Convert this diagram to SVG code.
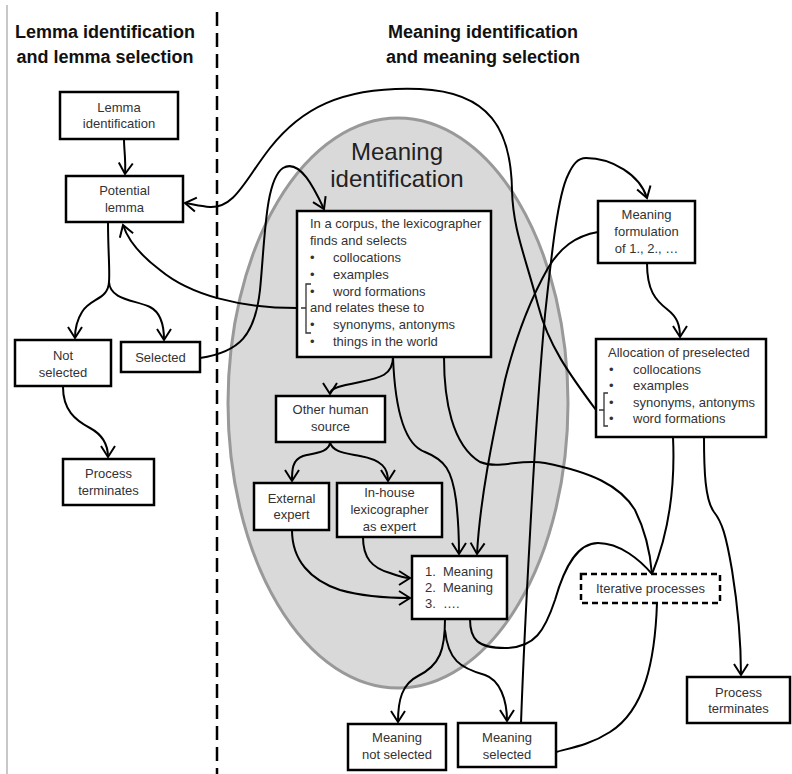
<svg xmlns="http://www.w3.org/2000/svg" width="792" height="774" viewBox="0 0 792 774">
<style>
.box{fill:#fff;stroke:#000;stroke-width:2.5}
.t{font-family:"Liberation Sans",Arial,sans-serif;font-size:13px;fill:#333}
.c{text-anchor:middle}
.h{font-family:"Liberation Sans",Arial,sans-serif;font-size:18px;font-weight:bold;fill:#111;text-anchor:middle}
.ln{fill:none;stroke:#000;stroke-width:2}
.br{fill:none;stroke:#333;stroke-width:1.3}
</style>
<defs>
<marker id="ah" viewBox="-13 -9 15 18" refX="0" refY="0" markerWidth="15" markerHeight="18" markerUnits="userSpaceOnUse" orient="auto">
<path d="M-11,-7 L0,0 L-11,7" fill="none" stroke="#000" stroke-width="2"/>
</marker>
</defs>
<rect x="0" y="0" width="792" height="774" fill="#fff"/>
<line x1="7" y1="5" x2="7" y2="774" stroke="#c8c8c8" stroke-width="2"/>
<line x1="217" y1="12" x2="217" y2="774" stroke="#000" stroke-width="2.5" stroke-dasharray="14,7"/>
<g id="headings">
<text class="h" x="105" y="38">Lemma identification</text>
<text class="h" x="105" y="63">and lemma selection</text>
<text class="h" x="483" y="38">Meaning identification</text>
<text class="h" x="483" y="63">and meaning selection</text>
</g>
<g id="meaning-identification-area">
<ellipse cx="398" cy="403" rx="170" ry="285" fill="#d9d9d9" stroke="#999" stroke-width="3"/>
<text x="397" y="160" font-family="Liberation Sans, Arial, sans-serif" font-size="24" fill="#222" text-anchor="middle">Meaning</text>
<text x="397" y="187" font-family="Liberation Sans, Arial, sans-serif" font-size="24" fill="#222" text-anchor="middle">identification</text>
</g>
<g id="connectors">
<path class="ln" d="M124,139 C124,150 126,160 125,174" marker-end="url(#ah)"/>
<path class="ln" d="M108,222 C108,250 110,270 109,282 C108,300 90,298 82,312 C77,320 75,328 75,338" marker-end="url(#ah)"/>
<path class="ln" d="M109,282 C110,300 135,300 150,307 C160,312 164,325 164,340" marker-end="url(#ah)"/>
<path class="ln" d="M63,387 C63,410 75,420 90,428 C103,435 108,445 108,457" marker-end="url(#ah)"/>
<path class="ln" d="M200,358 C240,352 255,335 260,290 C265,240 265,180 283,168 C300,158 315,190 324,209" marker-end="url(#ah)"/>
<path class="ln" d="M297,308 C240,308 190,295 160,270 C140,255 128,240 123,225" marker-end="url(#ah)"/>
<path class="ln" d="M596,410 C570,375 548,345 538,305 C525,255 513,230 512,190 C511,130 490,92 420,89 C340,86 300,110 270,148 C245,180 235,208 210,207 C200,206 192,204 185,203" marker-end="url(#ah)"/>
<path class="ln" d="M521,723 C524,640 535,420 545,315 C552,250 558,195 568,175 C573,164 578,158 586,158 C612,158 640,175 647,198" marker-end="url(#ah)"/>
<path class="ln" d="M598,232 C575,236 560,248 548,268 C530,300 515,340 505,380 C492,440 480,500 477,554" marker-end="url(#ah)"/>
<path class="ln" d="M647,263 C647,290 655,300 668,310 C677,317 680,325 680,337" marker-end="url(#ah)"/>
<path class="ln" d="M444,357 C444,400 452,445 480,462 C500,470 520,458 545,463 C590,472 620,485 635,510 C645,530 650,550 652,574"/>
<path class="ln" d="M470,619 C470,640 478,648 505,648 C535,648 545,630 555,600 C565,565 578,543 598,543 C620,543 640,560 652,574"/>
<path class="ln" d="M673,437 C675,480 670,530 652,574"/>
<path class="ln" d="M704,437 C704,470 705,500 714,512 C722,522 726,535 732,570 C740,620 741,650 741,675" marker-end="url(#ah)"/>
<path class="ln" d="M657,603 C655,660 645,710 610,732 C590,745 570,748 556,752"/>
<path class="ln" d="M393,357 C393,375 380,378 360,382 C340,386 330,388 330,394" marker-end="url(#ah)"/>
<path class="ln" d="M393,357 C395,410 405,445 425,452 C445,460 452,470 456,500 C459,525 459,540 459,554" marker-end="url(#ah)"/>
<path class="ln" d="M330,442 C330,452 315,453 303,456 C292,460 292,470 292,481" marker-end="url(#ah)"/>
<path class="ln" d="M330,442 C332,452 345,453 360,456 C382,460 388,468 388,481" marker-end="url(#ah)"/>
<path class="ln" d="M292,530 C292,560 310,580 340,590 C365,597 390,598 410,598" marker-end="url(#ah)"/>
<path class="ln" d="M363,537 C363,558 372,568 390,573 C398,576 404,578 410,578" marker-end="url(#ah)"/>
<path class="ln" d="M445,619 C445,650 440,665 418,676 C402,684 398,700 398,722" marker-end="url(#ah)"/>
<path class="ln" d="M445,630 C448,660 460,668 485,675 C500,680 507,700 507,721" marker-end="url(#ah)"/>
</g>
<g id="lemma-identification">
<rect class="box" x="60" y="92" width="118" height="47"/>
<text class="t c" x="119" y="112">Lemma</text>
<text class="t c" x="119" y="128">identification</text>
</g>
<g id="potential-lemma">
<rect class="box" x="66" y="176" width="117" height="46"/>
<text class="t c" x="124.5" y="195">Potential</text>
<text class="t c" x="124.5" y="212">lemma</text>
</g>
<g id="not-selected">
<rect class="box" x="15" y="340" width="96" height="46"/>
<text class="t c" x="63" y="360">Not</text>
<text class="t c" x="63" y="377">selected</text>
</g>
<g id="selected">
<rect class="box" x="121" y="342" width="79" height="30"/>
<text class="t c" x="160.5" y="362">Selected</text>
</g>
<g id="process-terminates-left">
<rect class="box" x="63" y="459" width="91" height="46"/>
<text class="t c" x="108.5" y="478">Process</text>
<text class="t c" x="108.5" y="495">terminates</text>
</g>
<g id="corpus">
<rect class="box" x="297" y="211" width="194" height="146"/>
<text class="t" x="310" y="228">In a corpus, the lexicographer</text>
<text class="t" x="310" y="245">finds and selects</text>
<text class="t" x="310" y="262">•</text><text class="t" x="333" y="262">collocations</text>
<text class="t" x="310" y="279">•</text><text class="t" x="333" y="279">examples</text>
<text class="t" x="310" y="296">•</text><text class="t" x="333" y="296">word formations</text>
<text class="t" x="310" y="312">and relates these to</text>
<text class="t" x="310" y="329">•</text><text class="t" x="333" y="329">synonyms, antonyms</text>
<text class="t" x="310" y="346">•</text><text class="t" x="333" y="346">things in the world</text>
<path class="br" d="M311,284 L306,284 L306,333 L311,333 M301,308 L306,308"/>
</g>
<g id="other-human-source">
<rect class="box" x="276" y="396" width="109" height="46"/>
<text class="t c" x="330.5" y="414">Other human</text>
<text class="t c" x="330.5" y="431">source</text>
</g>
<g id="external-expert">
<rect class="box" x="254" y="483" width="75" height="47"/>
<text class="t c" x="291.5" y="503">External</text>
<text class="t c" x="291.5" y="519">expert</text>
</g>
<g id="in-house">
<rect class="box" x="337" y="483" width="105" height="54"/>
<text class="t c" x="389.5" y="497">In-house</text>
<text class="t c" x="389.5" y="514">lexicographer</text>
<text class="t c" x="389.5" y="531">as expert</text>
</g>
<g id="meanings">
<rect class="box" x="412" y="556" width="95" height="63"/>
<text class="t" x="425" y="576">1.</text><text class="t" x="443" y="576">Meaning</text>
<text class="t" x="425" y="592">2.</text><text class="t" x="443" y="592">Meaning</text>
<text class="t" x="425" y="608">3.</text><text class="t" x="443" y="608">….</text>
</g>
<g id="meaning-not-selected">
<rect class="box" x="348" y="724" width="98" height="46"/>
<text class="t c" x="397" y="742">Meaning</text>
<text class="t c" x="397" y="759">not selected</text>
</g>
<g id="meaning-selected">
<rect class="box" x="458" y="723" width="98" height="44"/>
<text class="t c" x="507" y="742">Meaning</text>
<text class="t c" x="507" y="759">selected</text>
</g>
<g id="meaning-formulation">
<rect class="box" x="598" y="201" width="97" height="62"/>
<text class="t c" x="646.5" y="219">Meaning</text>
<text class="t c" x="646.5" y="236">formulation</text>
<text class="t c" x="646.5" y="253">of 1., 2., …</text>
</g>
<g id="allocation">
<rect class="box" x="596" y="339" width="170" height="98"/>
<text class="t" x="608" y="357">Allocation of preselected</text>
<text class="t" x="609" y="374">•</text><text class="t" x="633" y="374">collocations</text>
<text class="t" x="609" y="390">•</text><text class="t" x="633" y="390">examples</text>
<text class="t" x="609" y="407">•</text><text class="t" x="633" y="407">synonyms, antonyms</text>
<text class="t" x="609" y="423">•</text><text class="t" x="633" y="423">word formations</text>
<path class="br" d="M608,393 L604,393 L604,426 L608,426 M599,410 L604,410"/>
</g>
<g id="iterative-processes">
<rect x="581" y="574" width="139" height="29" fill="#fff" stroke="#000" stroke-width="2.5" stroke-dasharray="6,4"/>
<text class="t c" x="650.5" y="593">Iterative processes</text>
</g>
<g id="process-terminates-right">
<rect class="box" x="687" y="677" width="103" height="46"/>
<text class="t c" x="738.5" y="697">Process</text>
<text class="t c" x="738.5" y="713">terminates</text>
</g>
</svg>
